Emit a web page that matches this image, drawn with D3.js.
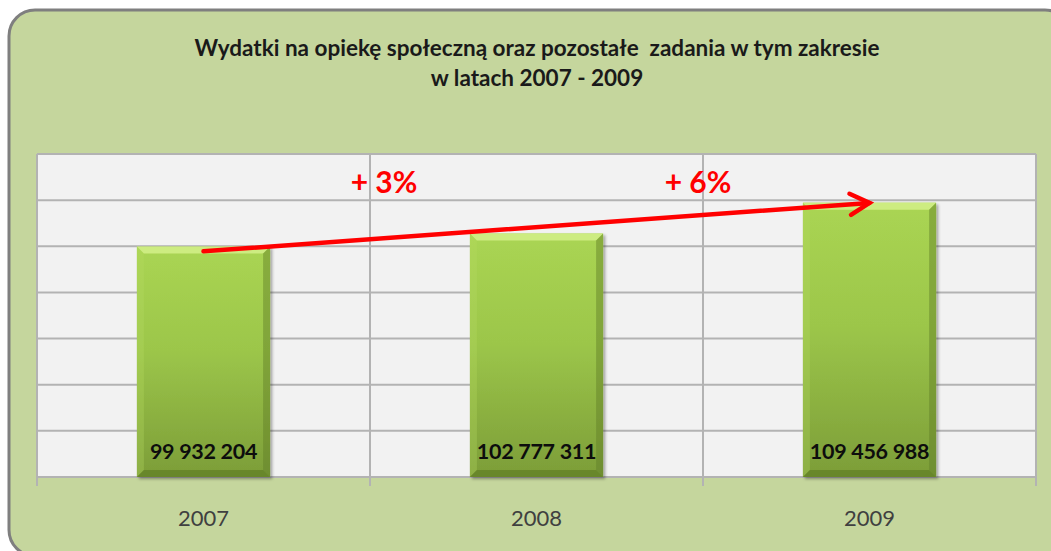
<!DOCTYPE html>
<html>
<head>
<meta charset="utf-8">
<script src="https://cdn.jsdelivr.net/npm/d3@7"></script>
<style>
  html, body { margin: 0; padding: 0; background: #ffffff; }
  svg { display: block; }
</style>
</head>
<body>
<svg id="chart" width="1051" height="551"></svg>
<script>
// Data
const years = ["2007", "2008", "2009"];
const expenses = [99932204, 102777311, 109456988];
const valueLabels = ["99 932 204", "102 777 311", "109 456 988"];
const yTicks = [50e6, 60e6, 70e6, 80e6, 90e6, 100e6, 110e6, 120e6];
const growthLabels = ["+ 3%", "+ 6%"];
// trend arrow: from the 2007 bar to the 2009 bar
const trendFrom = { year: "2007", value: 98.9e6 };
const trendTo = { year: "2009", value: 109.4e6 };
const titleLines = [
  "Wydatki na opiekę społeczną oraz pozostałe  zadania w tym zakresie",
  "w latach 2007 - 2009"
];

const svg = d3.select("#chart");
const font = "Lato, 'Open Sans', sans-serif";

const defs = svg.append("defs");
const shadow = defs.append("filter").attr("id", "shadow")
  .attr("x", "-10%").attr("y", "-10%").attr("width", "130%").attr("height", "130%");
shadow.append("feDropShadow").attr("dx", 2).attr("dy", 2).attr("stdDeviation", 1.5)
  .attr("flood-color", "#000").attr("flood-opacity", 0.35);

const barGrad = defs.append("linearGradient").attr("id", "barGrad")
  .attr("x1", 0).attr("y1", 0).attr("x2", 0).attr("y2", 1);
barGrad.append("stop").attr("offset", "0%").attr("stop-color", "#aad553");
barGrad.append("stop").attr("offset", "45%").attr("stop-color", "#9cc64a");
barGrad.append("stop").attr("offset", "100%").attr("stop-color", "#7c9d38");

// Outer panel
svg.append("rect")
  .attr("x", 9).attr("y", 10).attr("width", 1062).attr("height", 546)
  .attr("rx", 26).attr("ry", 26)
  .attr("fill", "#c5d69d")
  .attr("stroke", "#7f7f7f").attr("stroke-width", 3);

// Title
svg.append("g").selectAll("text").data(titleLines).join("text")
  .attr("x", 537).attr("y", (d, i) => 56 + i * 30)
  .attr("text-anchor", "middle")
  .attr("font-family", font).attr("font-weight", 700).attr("font-size", 22.5)
  .attr("fill", "#1a1a1a")
  .attr("xml:space", "preserve")
  .text(d => d);

// Plot area
const plot = { left: 37, right: 1036, top: 154, bottom: 477 };
const x = d3.scaleBand().domain(years).range([plot.left, plot.right])
  .paddingInner(0.6).paddingOuter(0.3);
const y = d3.scaleLinear().domain([50e6, 120e6]).range([plot.bottom, plot.top]);

svg.append("rect")
  .attr("x", plot.left).attr("y", plot.top)
  .attr("width", plot.right - plot.left).attr("height", plot.bottom - plot.top)
  .attr("fill", "#f2f2f2");

// Horizontal gridlines
svg.append("g").selectAll("line").data(yTicks).join("line")
  .attr("x1", plot.left).attr("x2", plot.right)
  .attr("y1", d => y(d)).attr("y2", d => y(d))
  .attr("stroke", "#b3b3b3").attr("stroke-width", 2);

// Category separators (extend below the baseline as tick marks)
const step = x.step();
const seps = [plot.left].concat(years.map(d => x(d) - x.paddingInner() * step / 2 + step));
svg.append("g").selectAll("line").data(seps).join("line")
  .attr("x1", d => d).attr("x2", d => d)
  .attr("y1", plot.top).attr("y2", plot.bottom + 9)
  .attr("stroke", "#b3b3b3").attr("stroke-width", 2);

// Bars with a bevelled edge
const bw = x.bandwidth();
const bev = 7;
const bars = svg.append("g").selectAll("g").data(years).join("g")
  .attr("filter", "url(#shadow)");
bars.append("rect")
  .attr("x", d => x(d)).attr("y", (d, i) => y(expenses[i]))
  .attr("width", bw).attr("height", (d, i) => plot.bottom - y(expenses[i]))
  .attr("fill", "url(#barGrad)");
// top bevel
bars.append("path").attr("d", (d, i) => {
  const x0 = x(d), x1 = x0 + bw, t = y(expenses[i]);
  return `M${x0},${t}L${x1},${t}L${x1 - bev},${t + bev}L${x0 + bev},${t + bev}Z`;
}).attr("fill", "#d4f08a").attr("opacity", 0.85);
// left bevel
bars.append("path").attr("d", (d, i) => {
  const x0 = x(d), t = y(expenses[i]), b = plot.bottom;
  return `M${x0},${t}L${x0 + bev},${t + bev}L${x0 + bev},${b - bev}L${x0},${b}Z`;
}).attr("fill", "#b5dc62").attr("opacity", 0.3);
// right bevel
bars.append("path").attr("d", (d, i) => {
  const x1 = x(d) + bw, t = y(expenses[i]), b = plot.bottom;
  return `M${x1},${t}L${x1 - bev},${t + bev}L${x1 - bev},${b - bev}L${x1},${b}Z`;
}).attr("fill", "#5f7d25").attr("opacity", 0.45);
// bottom bevel
bars.append("path").attr("d", d => {
  const x0 = x(d), x1 = x0 + bw, b = plot.bottom;
  return `M${x0},${b}L${x0 + bev},${b - bev}L${x1 - bev},${b - bev}L${x1},${b}Z`;
}).attr("fill", "#4f6a1c").attr("opacity", 0.45);

// Value labels inside bars
svg.append("g").selectAll("text").data(years).join("text")
  .attr("x", d => x(d) + bw / 2).attr("y", plot.bottom - 18)
  .attr("text-anchor", "middle")
  .attr("font-family", font).attr("font-weight", 700).attr("font-size", 21.5)
  .attr("letter-spacing", -0.3)
  .attr("fill", "#0d0d0d")
  .text((d, i) => valueLabels[i]);

// Category labels
svg.append("g").selectAll("text").data(years).join("text")
  .attr("x", d => x(d) + bw / 2).attr("y", 526)
  .attr("text-anchor", "middle")
  .attr("font-family", font).attr("font-size", 22)
  .attr("fill", "#404040")
  .text(d => d);

// Trend arrow
const ax0 = x(trendFrom.year) + bw / 2, ay0 = y(trendFrom.value);
const ax1 = x(trendTo.year) + bw / 2, ay1 = y(trendTo.value);
const ang = Math.atan2(ay1 - ay0, ax1 - ax0);
const headLen = 22, headAng = 0.5;
const arrow = svg.append("g").attr("stroke", "#ff0000").attr("stroke-width", 4.5)
  .attr("stroke-linecap", "round").attr("fill", "none");
arrow.append("line").attr("x1", ax0).attr("y1", ay0).attr("x2", ax1).attr("y2", ay1);
arrow.append("path").attr("d",
  `M${ax1 - headLen * Math.cos(ang - headAng)},${ay1 - headLen * Math.sin(ang - headAng)}` +
  `L${ax1},${ay1}` +
  `L${ax1 - headLen * Math.cos(ang + headAng)},${ay1 - headLen * Math.sin(ang + headAng)}`)
  .attr("stroke-linejoin", "miter");

// Growth labels, centred on the separators between years
const growthX = [seps[1] + 14, seps[2] - 5];
svg.append("g").selectAll("text").data(growthLabels).join("text")
  .attr("x", (d, i) => growthX[i]).attr("y", 193)
  .attr("text-anchor", "middle")
  .attr("font-family", font).attr("font-weight", 700).attr("font-size", 30)
  .attr("fill", "#ff0000")
  .text(d => d);
</script>
</body>
</html>
